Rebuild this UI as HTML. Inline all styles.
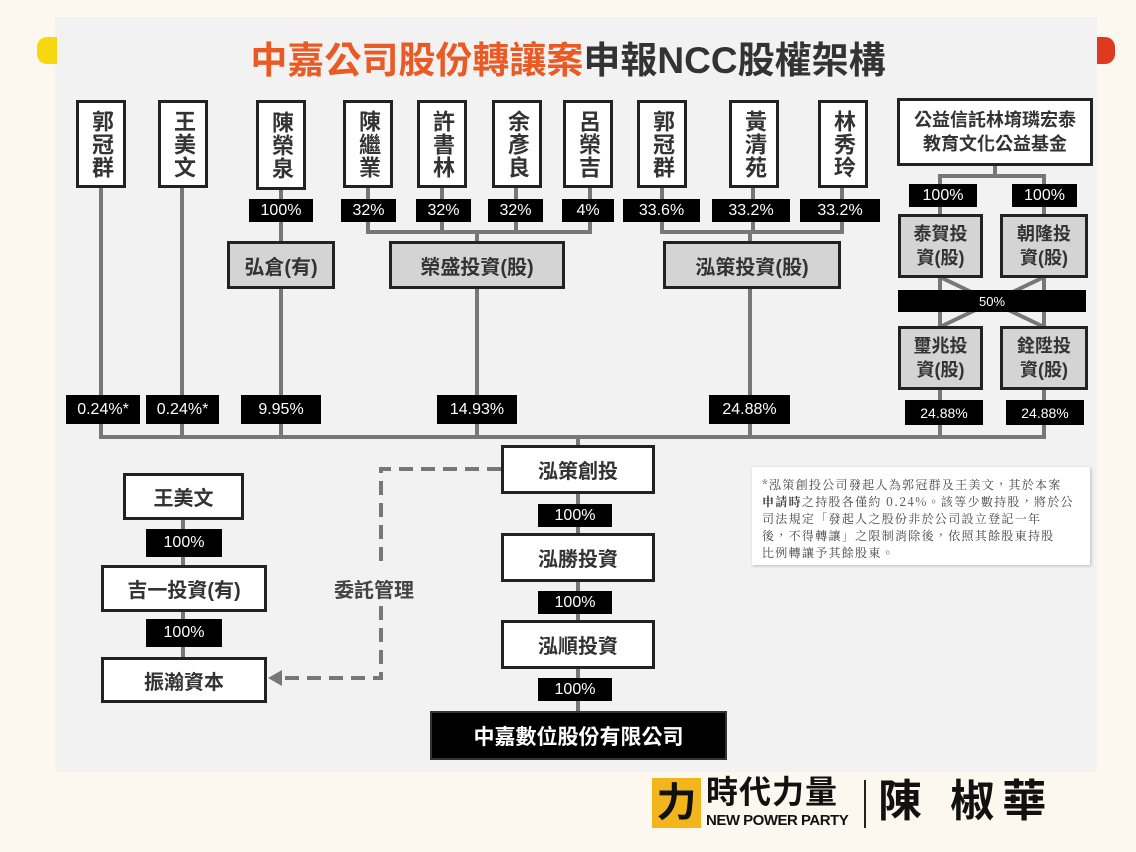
<!DOCTYPE html>
<html><head><meta charset="utf-8"><style>
*{margin:0;padding:0;box-sizing:border-box}
body{width:1136px;height:852px;background:#fcf8ef;position:relative;overflow:hidden;font-family:"Liberation Sans","Noto Sans CJK TC",sans-serif;color:#222}
.a{position:absolute}
.w{position:absolute;background:#fff;border:3px solid #222;display:flex;align-items:center;justify-content:center;text-align:center;font-weight:bold;color:#333}
.g{position:absolute;background:#d4d4d4;border:3px solid #222;display:flex;align-items:center;justify-content:center;text-align:center;font-weight:bold;color:#333}
.k{position:absolute;background:#000;color:#fff;display:flex;align-items:center;justify-content:center;font-size:16px}
.v{font-size:22px;line-height:24px;writing-mode:vertical-rl;letter-spacing:1px}
.f20{font-size:20px}.f18{font-size:18px;line-height:24px}
</style></head><body>
<div class="a" style="left:55px;top:17px;width:1042px;height:755px;background:#f2f2f2"></div>
<div class="a" style="left:37px;top:37px;width:20px;height:27px;background:#f6d80e;border-radius:10px 0 0 10px"></div>
<div class="a" style="left:1097px;top:37px;width:18px;height:27px;background:#e03a1e;border-radius:0 10px 10px 0"></div>
<div class="a" style="left:0;top:30px;width:1136px;text-align:center;font-size:37px;font-weight:bold;letter-spacing:0px"><span style="color:#ea5a24">中嘉公司股份轉讓案</span><span style="color:#333">申報NCC股權架構</span></div>

<svg class="a" style="left:0;top:0" width="1136" height="852">
<g stroke="#777" stroke-width="4" fill="none">
<line x1="101" y1="187" x2="101" y2="437"/><line x1="182" y1="187" x2="182" y2="437"/>
<line x1="281" y1="189" x2="281" y2="437"/>
<polyline points="368,187 368,232 590,232 590,187"/><line x1="442" y1="187" x2="442" y2="232"/><line x1="516" y1="187" x2="516" y2="232"/>
<line x1="477" y1="232" x2="477" y2="437"/>
<polyline points="662,187 662,232 842,232 842,187"/><line x1="753" y1="187" x2="753" y2="232"/>
<line x1="750" y1="232" x2="750" y2="437"/>
<line x1="995" y1="165" x2="995" y2="176"/><polyline points="940,214 940,176 1044,176 1044,214"/>
<line x1="940" y1="277" x2="940" y2="327"/><line x1="1044" y1="277" x2="1044" y2="327"/>
<line x1="940" y1="277" x2="1044" y2="327"/><line x1="1044" y1="277" x2="940" y2="327"/>
<line x1="940" y1="389" x2="940" y2="437"/><line x1="1044" y1="389" x2="1044" y2="437"/>
<line x1="99" y1="437" x2="1046" y2="437"/>
<line x1="578" y1="437" x2="578" y2="711"/>
<line x1="183" y1="519" x2="183" y2="657"/>
</g>
<g stroke="#777" stroke-width="4" fill="none" stroke-dasharray="14,8">
<polyline points="501,469 381,469 381,565"/><polyline points="381,606 381,678 282,678"/>
</g>
<polygon points="268,678 282,670 282,686" fill="#777"/>
</svg>

<div class="w v" style="left:76px;top:100px;width:50px;height:88px">郭冠群</div>
<div class="w v" style="left:158px;top:100px;width:50px;height:88px">王美文</div>
<div class="w v" style="left:256px;top:100px;width:50px;height:90px">陳榮泉</div>
<div class="w v" style="left:343px;top:100px;width:50px;height:88px">陳繼業</div>
<div class="w v" style="left:417px;top:100px;width:50px;height:88px">許書林</div>
<div class="w v" style="left:492px;top:100px;width:50px;height:88px">余彥良</div>
<div class="w v" style="left:563px;top:100px;width:50px;height:88px">呂榮吉</div>
<div class="w v" style="left:637px;top:100px;width:50px;height:88px">郭冠群</div>
<div class="w v" style="left:729px;top:100px;width:50px;height:88px">黃清苑</div>
<div class="w v" style="left:818px;top:100px;width:50px;height:88px">林秀玲</div>
<div class="w f18" style="left:897px;top:98px;width:196px;height:68px">公益信託林堉璘宏泰<br>教育文化公益基金</div>

<div class="k" style="left:249px;top:199px;width:64px;height:23px">100%</div>
<div class="k" style="left:341px;top:199px;width:55px;height:23px">32%</div>
<div class="k" style="left:416px;top:199px;width:55px;height:23px">32%</div>
<div class="k" style="left:488px;top:199px;width:55px;height:23px">32%</div>
<div class="k" style="left:562px;top:199px;width:52px;height:23px">4%</div>
<div class="k" style="left:623px;top:199px;width:77px;height:23px">33.6%</div>
<div class="k" style="left:712px;top:199px;width:78px;height:23px">33.2%</div>
<div class="k" style="left:800px;top:199px;width:80px;height:23px">33.2%</div>

<div class="g f20" style="left:227px;top:241px;width:108px;height:48px">弘倉(有)</div>
<div class="g f20" style="left:389px;top:241px;width:176px;height:48px">榮盛投資(股)</div>
<div class="g f20" style="left:663px;top:241px;width:178px;height:48px">泓策投資(股)</div>

<div class="k" style="left:909px;top:184px;width:68px;height:23px">100%</div>
<div class="k" style="left:1012px;top:184px;width:65px;height:23px">100%</div>
<div class="g f18" style="left:898px;top:214px;width:85px;height:64px">泰賀投<br>資(股)</div>
<div class="g f18" style="left:1000px;top:214px;width:88px;height:64px">朝隆投<br>資(股)</div>
<div class="k" style="left:898px;top:290px;width:188px;height:22px;font-size:13px">50%</div>
<div class="g f18" style="left:898px;top:326px;width:85px;height:64px">璽兆投<br>資(股)</div>
<div class="g f18" style="left:1000px;top:326px;width:88px;height:64px">銓陞投<br>資(股)</div>
<div class="k" style="left:905px;top:400px;width:78px;height:25px;font-size:14px">24.88%</div>
<div class="k" style="left:1006px;top:400px;width:78px;height:25px;font-size:14px">24.88%</div>

<div class="k" style="left:66px;top:395px;width:74px;height:29px">0.24%*</div>
<div class="k" style="left:146px;top:395px;width:73px;height:29px">0.24%*</div>
<div class="k" style="left:241px;top:395px;width:80px;height:29px">9.95%</div>
<div class="k" style="left:437px;top:395px;width:80px;height:29px">14.93%</div>
<div class="k" style="left:709px;top:395px;width:81px;height:29px">24.88%</div>

<div class="w f20" style="left:501px;top:445px;width:154px;height:49px">泓策創投</div>
<div class="k" style="left:538px;top:504px;width:74px;height:23px">100%</div>
<div class="w f20" style="left:501px;top:533px;width:154px;height:49px">泓勝投資</div>
<div class="k" style="left:538px;top:591px;width:74px;height:23px">100%</div>
<div class="w f20" style="left:501px;top:620px;width:154px;height:49px">泓順投資</div>
<div class="k" style="left:538px;top:678px;width:74px;height:23px">100%</div>
<div class="a" style="left:430px;top:711px;width:297px;height:49px;background:#000;border:2px solid #333;color:#fff;font-size:21px;font-weight:bold;display:flex;align-items:center;justify-content:center">中嘉數位股份有限公司</div>

<div class="w f20" style="left:123px;top:473px;width:121px;height:47px">王美文</div>
<div class="k" style="left:146px;top:529px;width:76px;height:28px">100%</div>
<div class="w f20" style="left:101px;top:565px;width:166px;height:47px">吉一投資(有)</div>
<div class="k" style="left:146px;top:619px;width:76px;height:28px">100%</div>
<div class="w f20" style="left:101px;top:657px;width:166px;height:46px">振瀚資本</div>
<div class="a" style="left:334px;top:574px;font-size:20px;font-weight:bold;color:#444">委託管理</div>

<div class="a" style="left:752px;top:467px;width:338px;height:98px;background:#fff;box-shadow:1px 1px 3px #bbb;padding:9px 10px;font-family:'Noto Serif CJK TC','Noto Serif CJK SC','Liberation Serif',serif;font-size:12px;line-height:17px;color:#444;letter-spacing:1.3px;white-space:nowrap">*泓策創投公司發起人為郭冠群及王美文，其於本案<br><b>申請時</b>之持股各僅約 0.24%。該等少數持股，將於公<br>司法規定「發起人之股份非於公司設立登記一年<br>後，不得轉讓」之限制消除後，依照其餘股東持股<br>比例轉讓予其餘股東。</div>

<div class="a" style="left:652px;top:778px;width:49px;height:50px;background:#f2b51c;font-size:40px;font-weight:bold;line-height:50px;text-align:center;color:#111">力</div>
<div class="a" style="left:706px;top:774px;font-size:32px;font-weight:bold;color:#111;line-height:36px;letter-spacing:1px">時代力量</div>
<div class="a" style="left:706px;top:812px;font-size:15px;font-weight:bold;color:#111;letter-spacing:-0.5px">NEW POWER PARTY</div>
<div class="a" style="left:864px;top:780px;width:2px;height:48px;background:#222"></div>
<div class="a" style="left:878px;top:776px;font-size:44px;font-weight:bold;color:#111;letter-spacing:8px;line-height:52px">陳 椒華</div>
</body></html>
